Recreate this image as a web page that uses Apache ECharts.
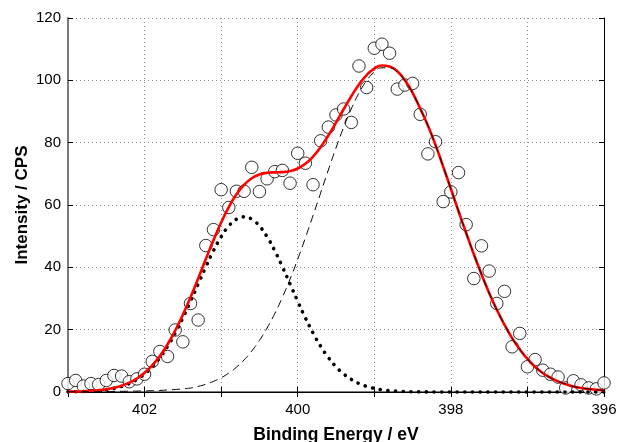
<!DOCTYPE html>
<html>
<head>
<meta charset="utf-8">
<script src="https://cdn.jsdelivr.net/npm/echarts@6/dist/echarts.min.js"></script>
<style>
html,body{margin:0;padding:0;background:#fff;}
#chart{width:617px;height:442px;}
</style>
</head>
<body>
<div id="chart"></div>
<script>
const energy = [403.0,402.9,402.8,402.7,402.6,402.5,402.4,402.3,402.2,402.1,
402.0,401.9,401.8,401.7,401.6,401.5,401.4,401.3,401.2,401.1,
401.0,400.9,400.8,400.7,400.6,400.5,400.4,400.3,400.2,400.1,
400.0,399.9,399.8,399.7,399.6,399.5,399.4,399.3,399.2,399.1,
399.0,398.9,398.8,398.7,398.6,398.5,398.4,398.3,398.2,398.1,
398.0,397.9,397.8,397.7,397.6,397.5,397.4,397.3,397.2,397.1,
397.0,396.9,396.8,396.7,396.6,396.5,396.4,396.3,396.2,396.1,396.0];

const intensity = [2.7,3.7,1.9,2.7,2.4,3.7,5.3,5.1,3.3,4.2,
5.7,9.8,13.0,11.4,19.9,16.1,28.4,23.1,47.0,52.1,
64.9,59.2,64.4,64.4,72.1,64.3,68.4,70.7,71.1,67.0,
76.6,73.4,66.5,80.6,85.0,88.9,90.8,86.5,104.6,97.7,
110.3,111.6,108.7,97.2,98.5,99.0,89.1,76.4,80.3,61.1,
64.2,70.4,53.7,36.4,46.9,38.8,28.4,32.3,14.5,18.8,
8.1,10.4,7.0,5.7,4.8,1.3,3.6,2.3,1.3,1.0,2.9];

const fitPeak1 = [0.05,0.08,0.15,0.26,0.44,0.72,1.16,1.80,2.73,4.04,
5.80,8.12,11.06,14.66,18.93,23.78,29.09,34.65,40.16,45.33,
49.80,53.26,55.45,56.20,55.45,53.26,49.80,45.33,40.16,34.65,
29.09,23.78,18.93,14.66,11.06,8.12,5.80,4.04,2.73,1.80,
1.16,0.72,0.44,0.26,0.15,0.08,0.05,0.02,0.01,0,
0,0,0,0,0,0,0,0,0,0,
0,0,0,0,0,0,0,0,0,0,0];

const fitPeak2 = [0.08,0.09,0.10,0.12,0.14,0.16,0.19,0.22,0.26,0.30,
0.36,0.42,0.50,0.65,0.80,1.00,1.28,1.80,2.49,3.40,
4.58,6.08,7.97,10.30,13.14,16.54,20.54,25.15,30.39,36.24,
42.62,49.45,56.61,63.93,71.24,78.31,84.93,90.87,95.92,99.89,
102.63,104.02,104.02,102.63,99.89,95.92,90.87,85.5,79.2,72.3,
65.2,58.0,51.0,44.2,37.8,31.8,26.4,21.6,17.3,13.7,
10.6,8.1,6.1,4.6,3.4,2.5,1.8,1.3,0.95,0.7,0.5];

const fitSum = [0.13,0.17,0.25,0.38,0.58,0.88,1.35,2.02,2.99,4.34,
6.16,8.54,11.56,15.31,19.73,24.78,30.37,36.45,42.65,48.73,
54.38,59.34,63.42,66.50,68.59,69.80,70.34,70.48,70.55,70.89,
71.71,73.23,75.54,78.59,82.30,86.43,90.73,94.91,98.65,101.69,
103.79,104.74,104.46,102.89,100.04,96.00,90.92,85.52,79.21,72.3,
65.2,58.0,51.0,44.2,37.8,31.8,26.4,21.6,17.3,13.7,
10.6,8.1,6.1,4.6,3.4,2.5,1.8,1.3,0.95,0.7,0.5];

const xTicks = [402, 400, 398, 396];
const yTicks = [0, 20, 40, 60, 80, 100, 120];

const pairs = arr => energy.map((e, i) => [e, arr[i]]);

const chart = echarts.init(document.getElementById('chart'), null, {renderer: 'canvas'});
const font = 'Liberation Sans, Arial, Helvetica, sans-serif';
const gridLine = {show: true, lineStyle: {color: '#8c8c8c', width: 1, type: [1, 3]}};

chart.setOption({
  animation: false,
  backgroundColor: '#ffffff',
  grid: {left: 68, right: 13, top: 18, bottom: 50, containLabel: false, outerBoundsMode: 'none'},
  xAxis: [{
    type: 'value', min: 396, max: 403, interval: 1, inverse: true,
    name: 'Binding Energy / eV', nameLocation: 'middle', nameGap: 34, nameMoveOverlap: false,
    nameTextStyle: {fontFamily: font, fontSize: 17.5, fontWeight: 'bold', color: '#000'},
    axisLine: {show: true, lineStyle: {color: '#7a7a7a', width: 2}},
    axisTick: {show: true, inside: true, length: 5, lineStyle: {color: '#000', width: 1}},
    axisLabel: {fontFamily: font, fontSize: 15, color: '#000', margin: 10,
      formatter: v => (xTicks.indexOf(Math.round(v)) >= 0 ? String(Math.round(v)) : '')},
    splitLine: gridLine
  }, {
    type: 'value', position: 'top', min: 396, max: 403, interval: 1, inverse: true,
    axisLine: {show: true, lineStyle: {color: '#000', width: 1}},
    axisTick: {show: true, inside: true, length: 5, lineStyle: {color: '#000'}},
    axisLabel: {show: false}, splitLine: {show: false}
  }],
  yAxis: [{
    type: 'value', min: 0, max: 120, interval: 20,
    name: 'Intensity / CPS', nameLocation: 'middle', nameGap: 37, nameMoveOverlap: false,
    nameTextStyle: {fontFamily: font, fontSize: 17, fontWeight: 'bold', color: '#000'},
    axisLine: {show: true, lineStyle: {color: '#7a7a7a', width: 2}},
    axisTick: {show: true, inside: true, length: 5, lineStyle: {color: '#000'}},
    axisLabel: {fontFamily: font, fontSize: 15, color: '#000', margin: 7,
      formatter: v => (yTicks.indexOf(v) >= 0 ? String(v) : '')},
    splitLine: gridLine
  }, {
    type: 'value', position: 'right', min: 0, max: 120, interval: 20,
    axisLine: {show: true, lineStyle: {color: '#000', width: 1}},
    axisTick: {show: true, inside: true, length: 5, lineStyle: {color: '#000'}},
    axisLabel: {show: false}, splitLine: {show: false}
  }],
  series: [{
    name: 'data', type: 'scatter', data: pairs(intensity), z: 2, clip: false,
    symbol: 'circle', symbolSize: 12.5,
    itemStyle: {color: '#ffffff', borderColor: '#000', borderWidth: 1}
  }, {
    name: 'peak1', type: 'line', data: pairs(fitPeak1), z: 3, smooth: true, clip: false,
    showSymbol: false, symbol: 'none',
    lineStyle: {color: '#000', width: 3.6, type: [0.1, 7.6], cap: 'round'}
  }, {
    name: 'sum', type: 'line', data: pairs(fitSum), z: 4, smooth: true, clip: false,
    showSymbol: false, symbol: 'none',
    lineStyle: {color: '#ff0000', width: 2.6}
  }, {
    name: 'peak2', type: 'line', data: pairs(fitPeak2), z: 5, smooth: true, clip: false,
    showSymbol: false, symbol: 'none',
    lineStyle: {color: '#000', width: 1, type: [8, 5]}
  }]
});
</script>
</body>
</html>
